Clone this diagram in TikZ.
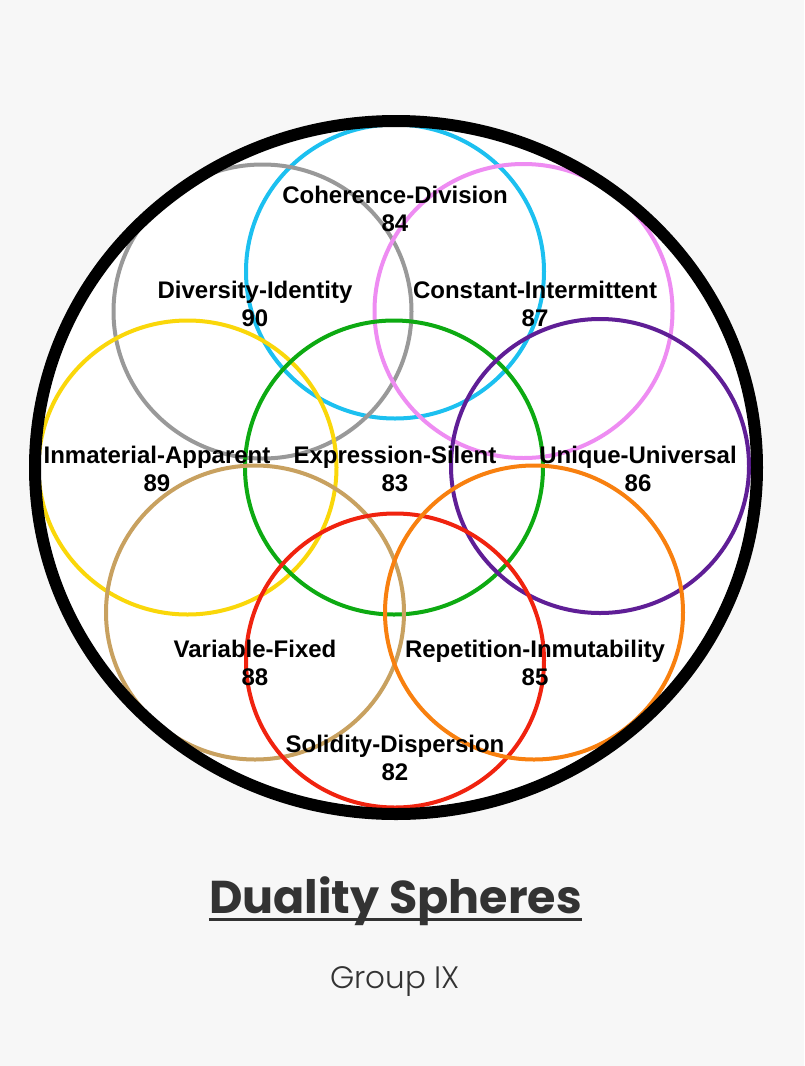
\documentclass[tikz,border=0pt]{standalone}
\usepackage{fontspec}
\setmainfont{Liberation Sans}
\newfontfamily\titlefont{Poppins}
\newfontfamily\groupfont{Poppins Light}

\definecolor{pagebg}{HTML}{F7F7F7}
\definecolor{inkgray}{HTML}{333333}
\definecolor{sphcyan}{HTML}{1CC0F0}
\definecolor{sphgray}{HTML}{999999}
\definecolor{sphpink}{HTML}{EE8CF2}
\definecolor{sphyellow}{HTML}{FAD70A}
\definecolor{sphgreen}{HTML}{0DAA12}
\definecolor{sphpurple}{HTML}{5F1E96}
\definecolor{sphtan}{HTML}{C8A160}
\definecolor{sphred}{HTML}{F0230F}
\definecolor{sphorange}{HTML}{F8800F}

\begin{document}
\begin{tikzpicture}[x=1pt, y=-1pt,
		sphere/.style={line width=4pt},
		pair/.style={align=center, inner sep=0pt, font=\bfseries\fontsize{24}{28}\selectfont}]
		\fill [pagebg]	(0, 0) rectangle (804, 1066);
		\useasboundingbox	(0, 0) rectangle (804, 1066);

		\fill [white]	(396, 467.5) ellipse [x radius=361pt, y radius=346.5pt];

		\draw [sphere, sphcyan]		(395, 271.5) ellipse [x radius=149pt, y radius=147pt];
		\draw [sphere, sphgray]		(262.5, 311.5) ellipse [x radius=149pt, y radius=147pt];
		\draw [sphere, sphpink]		(523.5, 311) ellipse [x radius=149pt, y radius=147pt];
		\draw [sphere, sphyellow]	(187.5, 467.5) ellipse [x radius=149pt, y radius=147pt];
		\draw [sphere, sphgreen]	(394, 467.5) ellipse [x radius=149pt, y radius=147pt];
		\draw [sphere, sphpurple]	(600, 466) ellipse [x radius=149pt, y radius=147pt];
		\draw [sphere, sphtan]		(255, 612.5) ellipse [x radius=149pt, y radius=147pt];
		\draw [sphere, sphred]		(395, 660.5) ellipse [x radius=149pt, y radius=147pt];
		\draw [sphere, sphorange]	(534, 612.5) ellipse [x radius=149pt, y radius=147pt];

		\draw [line width=12pt, black]	(396, 467.5) ellipse [x radius=361pt, y radius=346.5pt];

		\node [pair] (coherence)	at (395, 209) {Coherence-Division\\84};
		\node [pair] (diversity)	at (255, 304) {Diversity-Identity\\90};
		\node [pair] (constant)		at (535, 304) {Constant-Intermittent\\87};
		\node [pair] (inmaterial)	at (157, 469) {Inmaterial-Apparent\\89};
		\node [pair] (expression)	at (395, 469) {Expression-Silent\\83};
		\node [pair] (unique)		at (638, 469) {Unique-Universal\\86};
		\node [pair] (variable)		at (255, 663) {Variable-Fixed\\88};
		\node [pair] (repetition)	at (535, 663) {Repetition-Inmutability\\85};
		\node [pair] (solidity)		at (395, 758) {Solidity-Dispersion\\82};

		\node [inner sep=0pt, inkgray, font=\titlefont\bfseries\fontsize{46}{52}\selectfont] (title) at (395.5, 901) {Duality Spheres};
		\draw [line width=3pt, inkgray]	([yshift=-6pt]title.base west) to ([yshift=-6pt]title.base east);

		\node [inner sep=0pt, inkgray, font=\groupfont\fontsize{31}{36}\selectfont] (group) at (395, 982) {Group IX};
\end{tikzpicture}
\end{document}
